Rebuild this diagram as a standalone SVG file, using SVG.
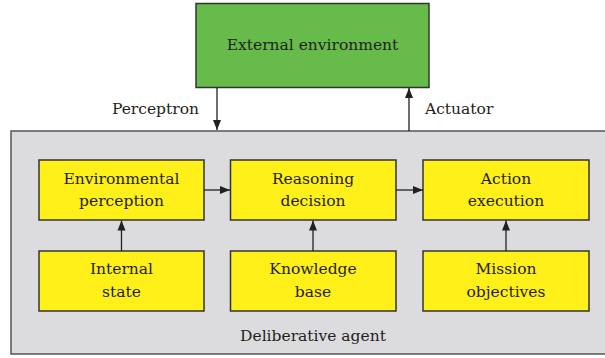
<svg xmlns="http://www.w3.org/2000/svg" width="605" height="358" viewBox="0 0 605 358">
<defs>
<style>
text{font-family:"DejaVu Serif","Liberation Serif",serif;font-size:15.5px;fill:#231f20;text-anchor:middle}
.box{fill:#fff01a;stroke:#333;stroke-width:1.5}
.ln{stroke:#231f20;stroke-width:1.3;fill:none}
</style>
<marker id="ah" viewBox="0 0 10 10" refX="10" refY="5" markerWidth="10" markerHeight="10" markerUnits="userSpaceOnUse" orient="auto">
<path d="M0,1 L10,5 L0,9 z" fill="#231f20"/>
</marker>
</defs>
<g id="agent">
<rect x="11" y="131" width="604" height="223" fill="#dcdcdf" stroke="#555" stroke-width="1.5"/>
<text x="313" y="341">Deliberative agent</text>
</g>
<g id="env">
<rect x="196" y="3.5" width="233" height="84" fill="#66bb4a" stroke="#333" stroke-width="1.5"/>
<text x="312.5" y="50">External environment</text>
</g>
<g id="envperc">
<rect class="box" x="39" y="160" width="165" height="60"/>
<text x="121.5" y="184">Environmental</text>
<text x="121.5" y="206">perception</text>
</g>
<g id="reason">
<rect class="box" x="230.5" y="160" width="165.5" height="60"/>
<text x="313" y="184">Reasoning</text>
<text x="313" y="206">decision</text>
</g>
<g id="action">
<rect class="box" x="423" y="160" width="166" height="60"/>
<text x="506" y="184">Action</text>
<text x="506" y="206">execution</text>
</g>
<g id="internal">
<rect class="box" x="39" y="251" width="165" height="60"/>
<text x="121.5" y="274">Internal</text>
<text x="121.5" y="297">state</text>
</g>
<g id="knowledge">
<rect class="box" x="230.5" y="251" width="165.5" height="60"/>
<text x="313" y="274">Knowledge</text>
<text x="313" y="297">base</text>
</g>
<g id="mission">
<rect class="box" x="423" y="251" width="166" height="60"/>
<text x="506" y="274">Mission</text>
<text x="506" y="297">objectives</text>
</g>
<g id="connectors">
<line class="ln" x1="217" y1="88" x2="217" y2="130" marker-end="url(#ah)"/>
<line class="ln" x1="409" y1="131" x2="409" y2="88" marker-end="url(#ah)"/>
<text x="199" y="114" style="text-anchor:end">Perceptron</text>
<text x="425" y="114" style="text-anchor:start">Actuator</text>
<line class="ln" x1="204" y1="190" x2="230" y2="190" marker-end="url(#ah)"/>
<line class="ln" x1="396" y1="190" x2="423" y2="190" marker-end="url(#ah)"/>
<line class="ln" x1="121.5" y1="251" x2="121.5" y2="220.5" marker-end="url(#ah)"/>
<line class="ln" x1="313" y1="251" x2="313" y2="220.5" marker-end="url(#ah)"/>
<line class="ln" x1="506" y1="251" x2="506" y2="220.5" marker-end="url(#ah)"/>
</g>
</svg>
